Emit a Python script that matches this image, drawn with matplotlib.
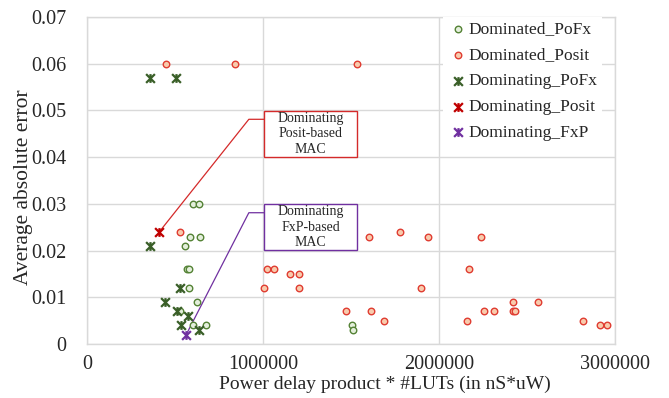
import matplotlib
matplotlib.use('Agg')
import matplotlib.pyplot as plt
from matplotlib.path import Path
from matplotlib.patches import Rectangle

plt.rcParams['font.family'] = ['Liberation Serif', 'DejaVu Serif']

# 数据: 横轴 = 功耗延迟积 * LUT 数, 纵轴 = 平均绝对误差
dom_pofx_x = [604000, 635000, 585000, 644000, 557000, 566000, 580000, 578000, 623000,
              530000, 604000, 678000, 1504000, 1514000]
dom_pofx_y = [0.030, 0.030, 0.023, 0.023, 0.021, 0.016, 0.016, 0.012, 0.009,
              0.007, 0.004, 0.004, 0.004, 0.003]

dom_posit_x = [447000, 840000, 1534000, 528000, 1602000, 1780000, 1937000, 2242000,
               1025000, 1064000, 2169000, 1155000, 1205000, 1006000, 1206000, 1900000,
               1475000, 1617000, 1686000, 2161000, 2254000, 2311000, 2419000, 2432000,
               2419000, 2562000, 2822000, 2915000, 2953000]
dom_posit_y = [0.060, 0.060, 0.060, 0.024, 0.023, 0.024, 0.023, 0.023,
               0.016, 0.016, 0.016, 0.015, 0.015, 0.012, 0.012, 0.012,
               0.007, 0.007, 0.005, 0.005, 0.007, 0.007, 0.007, 0.007,
               0.009, 0.009, 0.005, 0.004, 0.004]

ing_pofx_x = [356000, 504000, 356000, 528000, 445000, 511000, 574000, 536000, 638000]
ing_pofx_y = [0.057, 0.057, 0.021, 0.012, 0.009, 0.007, 0.006, 0.004, 0.003]

ing_posit_x = [411000]
ing_posit_y = [0.024]

ing_fxp_x = [564000]
ing_fxp_y = [0.002]

# Excel 的星形标记: x 加一条竖线
star = Path([(-1, -1), (1, 1), (-1, 1), (1, -1), (0, -1), (0, 1)],
            [Path.MOVETO, Path.LINETO, Path.MOVETO, Path.LINETO, Path.MOVETO, Path.LINETO])

green = '#3a5f28'
red = '#d42a2a'
purple = '#7030a0'
grid_c = '#d9d9d9'
txt_c = '#262626'

fig = plt.figure(figsize=(6.69, 3.98), dpi=100)
ax = fig.add_axes([0.130, 0.1357, 0.789, 0.8216])

ax.scatter(dom_pofx_x, dom_pofx_y, s=22, marker='o', facecolor='#e4efdc',
           edgecolor='#548235', linewidth=1.0, label='Dominated_PoFx', zorder=3)
ax.scatter(dom_posit_x, dom_posit_y, s=22, marker='o', facecolor='#f8cbad',
           edgecolor='#e03c31', linewidth=1.0, label='Dominated_Posit', zorder=3)
ax.scatter(ing_pofx_x, ing_pofx_y, s=40, marker=star, color=green,
           linewidth=1.6, label='Dominating_PoFx', zorder=4)
ax.scatter(ing_posit_x, ing_posit_y, s=40, marker=star, color='#c00000',
           linewidth=1.6, label='Dominating_Posit', zorder=4)
ax.scatter(ing_fxp_x, ing_fxp_y, s=40, marker=star, color=purple,
           linewidth=1.6, label='Dominating_FxP', zorder=4)

# 注释框
ax.plot([ing_posit_x[0], 920000, 1006000], [ing_posit_y[0], 0.0481, 0.0481],
        color=red, linewidth=0.9, zorder=2)
ax.plot([ing_fxp_x[0], 920000, 1006000], [ing_fxp_y[0], 0.0281, 0.0281],
        color=purple, linewidth=0.9, zorder=2)
ax.add_patch(Rectangle((1006000, 0.0401), 528000, 0.0098, facecolor='white',
                       edgecolor=red, linewidth=1.0, zorder=5))
ax.add_patch(Rectangle((1006000, 0.0201), 528000, 0.0099, facecolor='white',
                       edgecolor=purple, linewidth=1.0, zorder=5))
ax.text(1270000, 0.0450, 'Dominating\nPosit-based\nMAC', ha='center', va='center',
        fontsize=10, color=txt_c, linespacing=1.25, zorder=6)
ax.text(1270000, 0.0250, 'Dominating\nFxP-based\nMAC', ha='center', va='center',
        fontsize=10, color=txt_c, linespacing=1.25, zorder=6)

ax.set_xlim(0, 3000000)
ax.set_ylim(0, 0.07)
ax.set_xticks([0, 1000000, 2000000, 3000000])
ax.set_xticklabels(['0', '1000000', '2000000', '3000000'])
ax.set_yticks([0, 0.01, 0.02, 0.03, 0.04, 0.05, 0.06, 0.07])
ax.set_yticklabels(['0', '0.01', '0.02', '0.03', '0.04', '0.05', '0.06', '0.07'])
ax.tick_params(length=0, labelsize=14.5, colors=txt_c)
ax.tick_params(axis='x', pad=8)
ax.tick_params(axis='y', pad=15)
ax.grid(True, color=grid_c, linewidth=1.0, zorder=0)
ax.set_axisbelow(True)
for sp in ax.spines.values():
    sp.set_color(grid_c)
    sp.set_linewidth(1.0)

ax.set_xlabel('Power delay product * #LUTs (in nS*uW)', fontsize=14, color=txt_c, labelpad=1)
ax.xaxis.label.set_x(0.564)
ax.set_ylabel('Average absolute error', fontsize=15.5, color=txt_c)
ax.yaxis.set_label_coords(-0.103, 0.48)

leg = ax.legend(loc='upper right', bbox_to_anchor=(0.975, 1.0), fontsize=12.5,
                frameon=True, fancybox=False, borderaxespad=0.0,
                handletextpad=0.0, handlelength=1.2, labelspacing=0.56, borderpad=0.25)
leg.get_frame().set_facecolor('white')
leg.get_frame().set_edgecolor('none')
leg.get_frame().set_alpha(1.0)
leg.set_zorder(7)
for t in leg.get_texts():
    t.set_color(txt_c)

fig.savefig('out.png', dpi=100)
